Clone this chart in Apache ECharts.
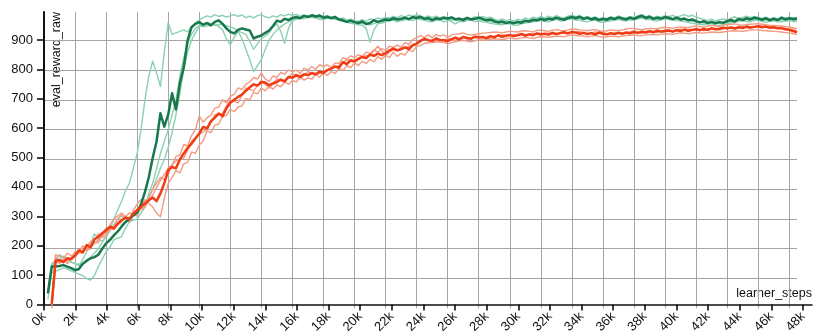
<!DOCTYPE html>
<html>
<head>
<meta charset="utf-8">
<script src="https://cdn.jsdelivr.net/npm/echarts@6/dist/echarts.min.js"></script>
<style>
  html, body { margin: 0; padding: 0; background: #fff; }
  #chart { width: 815px; height: 336px; }
</style>
</head>
<body>
<div id="chart"></div>
<script>
// learner steps at which evaluation was recorded (8 per row = 2k steps)
const steps = [
  250, 500, 750, 1000, 1250, 1500, 1750, 2000,
  2250, 2500, 2750, 3000, 3250, 3500, 3750, 4000,
  4250, 4500, 4750, 5000, 5250, 5500, 5750, 6000,
  6250, 6500, 6750, 7000, 7250, 7500, 7750, 8000,
  8250, 8500, 8750, 9000, 9250, 9500, 9750, 10000,
  10250, 10500, 10750, 11000, 11250, 11500, 11750, 12000,
  12250, 12500, 12750, 13000, 13250, 13500, 13750, 14000,
  14250, 14500, 14750, 15000, 15250, 15500, 15750, 16000,
  16250, 16500, 16750, 17000, 17250, 17500, 17750, 18000,
  18250, 18500, 18750, 19000, 19250, 19500, 19750, 20000,
  20250, 20500, 20750, 21000, 21250, 21500, 21750, 22000,
  22250, 22500, 22750, 23000, 23250, 23500, 23750, 24000,
  24250, 24500, 24750, 25000, 25250, 25500, 25750, 26000,
  26250, 26500, 26750, 27000, 27250, 27500, 27750, 28000,
  28250, 28500, 28750, 29000, 29250, 29500, 29750, 30000,
  30250, 30500, 30750, 31000, 31250, 31500, 31750, 32000,
  32250, 32500, 32750, 33000, 33250, 33500, 33750, 34000,
  34250, 34500, 34750, 35000, 35250, 35500, 35750, 36000,
  36250, 36500, 36750, 37000, 37250, 37500, 37750, 38000,
  38250, 38500, 38750, 39000, 39250, 39500, 39750, 40000,
  40250, 40500, 40750, 41000, 41250, 41500, 41750, 42000,
  42250, 42500, 42750, 43000, 43250, 43500, 43750, 44000,
  44250, 44500, 44750, 45000, 45250, 45500, 45750, 46000,
  46250, 46500, 46750, 47000, 47250, 47500, 47750, 48000,
  48250, 48500
];

// green agent: mean curve
const greenMean = [
  50, 140, 140, 142, 145, 140, 135, 128,
  132, 150, 160, 168, 172, 180, 200, 218,
  230, 245, 258, 275, 290, 300, 312, 322,
  350, 390, 440, 505, 560, 655, 610, 650,
  722, 668, 755, 810, 900, 944, 955, 961,
  952, 958, 950, 962, 967, 955, 940, 928,
  923, 935, 940, 936, 933, 906, 912, 916,
  925, 933, 948, 966, 962, 972, 968, 975,
  978, 974, 982, 978, 984, 980, 983, 976,
  979, 974, 978, 970, 967, 962, 966, 961,
  958, 963, 955, 958, 967, 962, 966, 970,
  968, 974, 970, 972, 976, 971, 978, 975,
  979, 972, 975, 968, 974, 971, 976, 973,
  977, 970, 973, 968, 975, 970, 972, 976,
  972, 967, 970, 964, 960, 963, 958, 961,
  957, 962, 959, 966, 963, 969, 967, 972,
  968, 973, 970, 976, 972, 969, 975, 978,
  974, 979, 972, 976, 970, 974, 968, 972,
  969, 975, 971, 977, 973, 970, 976, 972,
  978, 982, 975, 979, 972, 976, 973, 978,
  975, 971, 976, 970, 973, 967, 970, 964,
  960, 964, 958, 962, 957, 961, 959, 964,
  968, 963, 972, 968, 974, 970, 976, 973,
  969, 974, 967, 972, 968, 975, 970, 974,
  971, 973
];
// green agent: individual runs
const greenRun1 = [
  60, 150, 160, 165, 175, 168, 155, 150,
  142, 165, 190, 215, 250, 235, 225, 240,
  265, 300, 330, 360, 395, 420, 470, 520,
  600, 700, 780, 830, 790, 745, 860, 960,
  920, 925, 930, 935, 928, 945, 958, 968,
  975, 982, 978, 986, 980, 984, 978, 982,
  986, 980, 985, 976, 981, 975, 983, 986,
  979, 975, 982, 978, 986, 982, 988, 984,
  987, 981, 985, 979, 986, 982, 984, 979,
  983, 977, 980, 972, 975, 968, 971, 966,
  963, 969, 964, 972, 968, 975, 972, 977,
  974, 980, 976, 983, 978, 985, 980, 986,
  981, 976, 982, 977, 981, 975, 979, 973,
  968, 974, 966, 972, 977, 973, 979, 976,
  980, 975, 978, 971, 967, 972, 966, 970,
  964, 971, 967, 975, 970, 978, 974, 979,
  975, 981, 976, 983, 978, 975, 981, 984,
  979, 983, 976, 980, 974, 979, 972, 977,
  973, 979, 975, 982, 977, 974, 980, 976,
  982, 987, 979, 983, 976, 981, 977, 983,
  979, 984, 978, 982, 986, 980, 984, 978,
  974, 970, 966, 971, 964, 969, 972, 968,
  974, 979, 973, 977, 981, 976, 980, 977,
  973, 978, 972, 977, 971, 979, 974, 978,
  975, 977
];
const greenRun2 = [
  30, 120, 125, 130, 136, 132, 126, 120,
  115, 110, 100, 95, 110, 140, 165, 190,
  205, 230, 236, 240, 270, 290, 296, 300,
  320, 340, 385, 420, 470, 520, 560, 600,
  650, 700, 780, 840, 890, 920, 940, 950,
  945, 948, 952, 955, 946, 935, 905, 885,
  910, 930, 926, 920, 895, 870, 888, 905,
  915, 925, 945, 955, 930, 890, 940, 965,
  970, 975, 972, 980, 976, 975, 970, 970,
  974, 975, 970, 968, 963, 960, 957, 955,
  952, 950, 940, 894, 935, 955, 958, 962,
  965, 968, 962, 965, 969, 970, 966, 972,
  970, 968, 964, 962, 967, 968, 962, 965,
  969, 970, 964, 962, 966, 968, 963, 965,
  962, 960, 957, 955, 953, 952, 956, 955,
  951, 950, 955, 958, 960, 962, 964, 966,
  963, 962, 967, 970, 965, 966, 970, 972,
  968, 968, 964, 962, 966, 968, 962, 960,
  963, 965, 968, 970, 966, 965, 969, 968,
  972, 975, 970, 970, 966, 965, 969, 972,
  970, 968, 966, 965, 962, 960, 957, 955,
  953, 952, 955, 956, 951, 950, 953, 955,
  958, 962, 964, 966, 963, 962, 966, 968,
  963, 960, 964, 966, 962, 962, 965, 966,
  963, 964
];
const greenRun3 = [
  50, 140, 160, 180, 172, 160, 155, 150,
  148, 145, 158, 170, 186, 200, 222, 240,
  262, 280, 300, 310, 298, 290, 310, 330,
  336, 340, 370, 400, 435, 470, 500, 540,
  590, 650, 720, 800, 860, 900, 925, 945,
  955, 960, 955, 950, 952, 955, 948, 945,
  940, 930, 905, 870, 835, 795, 815, 835,
  870, 900, 920, 935, 945, 955, 962, 970,
  974, 978, 980, 982, 980, 978, 976, 974,
  975, 976, 972, 970, 967, 964, 962, 960,
  958, 956, 954, 952, 956, 960, 963, 965,
  967, 970, 969, 968, 970, 972, 974, 976,
  974, 972, 970, 968, 970, 972, 971, 970,
  962, 955, 964, 968, 970, 972, 971, 970,
  967, 965, 962, 960, 959, 958, 960, 960,
  957, 955, 958, 962, 964, 966, 968, 970,
  969, 968, 970, 972, 971, 970, 973, 975,
  973, 972, 970, 972, 969, 968, 966, 965,
  967, 970, 972, 974, 972, 970, 972, 974,
  976, 978, 976, 974, 972, 970, 972, 975,
  974, 972, 971, 970, 968, 966, 964, 962,
  960, 958, 957, 960, 958, 956, 958, 960,
  963, 966, 968, 970, 969, 968, 970, 972,
  970, 968, 966, 970, 968, 967, 969, 970,
  968, 968
];

// red agent: mean curve
const redMean = [
  null, 15, 160, 162, 155, 168, 165, 178,
  195, 188, 212, 205, 232, 240, 252, 262,
  274, 268, 285, 296, 305, 300, 318, 330,
  341, 352, 363, 372, 360, 386, 420, 464,
  475, 470, 500, 520, 538, 553, 570, 587,
  609, 604, 628, 640, 654, 645, 672, 690,
  700, 710, 718, 730, 742, 752, 748, 760,
  758, 749, 755, 760, 768, 762, 777, 774,
  783, 778, 786, 783, 790, 786, 795, 791,
  800, 805, 812, 808, 827, 820, 833, 830,
  838, 844, 840, 852, 848, 855, 850, 857,
  866, 872, 866, 870, 876, 870, 884, 889,
  898, 905, 900, 898, 906, 901, 900, 897,
  904, 909, 903, 911, 907, 905, 912, 909,
  911, 907, 914, 910, 917, 912, 915, 918,
  914, 917, 921, 916, 920, 917, 923, 920,
  922, 919, 925, 921, 924, 927, 923, 928,
  926, 922, 925, 921, 924, 920, 926, 922,
  920, 924, 921, 925, 922, 926, 924, 928,
  925, 929, 926, 930, 927, 932, 929, 931,
  933, 929, 934, 931, 936, 932, 935, 937,
  934, 938, 935, 940, 937, 939, 942, 940,
  943, 940, 944, 941, 946, 943, 945, 947,
  944, 946, 942, 944, 940, 941, 937, 935,
  931, 927
];
// red agent: individual runs
const redRun1 = [
  null, 25, 175, 150, 165, 185, 178, 170,
  190, 210, 195, 200, 228, 250, 238, 245,
  280, 300, 310, 320, 305, 290, 330, 350,
  365, 340, 372, 400, 420, 440, 432, 450,
  480, 510, 515, 550, 545, 580, 600, 645,
  625, 640, 648, 672, 676, 700, 690, 712,
  718, 740, 735, 752, 760, 775, 770, 790,
  770, 762, 780, 776, 792, 786, 800, 795,
  800, 788, 806, 800, 812, 802, 818, 812,
  818, 808, 824, 822, 842, 836, 848, 842,
  852, 846, 860, 856, 868, 860, 872, 866,
  880, 876, 884, 876, 892, 886, 902, 908,
  916, 910, 918, 908, 920, 914, 918, 910,
  918, 920, 922, 925, 920, 918, 920, 922,
  924, 925, 926, 928, 927, 925, 928, 930,
  929, 928, 931, 932, 930, 928, 933, 934,
  932, 930, 934, 936, 933, 932, 935, 938,
  937, 935, 934, 932, 935, 936, 932, 930,
  932, 934, 933, 932, 935, 938, 940, 940,
  937, 935, 938, 940, 939, 938, 942, 944,
  942, 940, 943, 945, 944, 942, 946, 948,
  946, 944, 948, 950, 948, 946, 950, 952,
  954, 955, 952, 950, 953, 954, 955, 956,
  954, 952, 950, 950, 949, 948, 946, 945,
  942, 938
];
const redRun2 = [
  null, 0, 150, 158, 165, 150, 170, 190,
  188, 185, 205, 225, 222, 220, 248, 270,
  268, 265, 280, 290, 308, 320, 315, 310,
  338, 365, 352, 340, 320, 307, 370, 420,
  440, 462, 455, 485, 490, 525, 520, 548,
  562, 595, 590, 615, 618, 645, 648, 668,
  660, 676, 680, 705, 700, 725, 720, 740,
  730, 745, 736, 750, 744, 760, 752, 765,
  760, 778, 766, 774, 770, 785, 776, 790,
  782, 795, 788, 806, 798, 815, 808, 824,
  815, 830, 822, 836, 828, 845, 836, 850,
  842, 860, 846, 856, 850, 868, 862, 880,
  882, 890, 891, 892, 894, 895, 892, 888,
  892, 895, 898, 900, 897, 895, 898, 902,
  901, 900, 903, 905, 904, 902, 905, 908,
  906, 905, 908, 910, 908, 906, 910, 912,
  911, 910, 912, 914, 913, 912, 915, 918,
  916, 915, 914, 912, 914, 916, 913, 910,
  912, 914, 913, 912, 914, 916, 917, 918,
  916, 915, 918, 920, 919, 918, 920, 922,
  921, 920, 923, 925, 924, 922, 924, 926,
  925, 924, 926, 928, 927, 926, 928, 930,
  931, 932, 931, 930, 932, 934, 935, 935,
  933, 932, 931, 930, 929, 928, 926, 925,
  922, 920
];
const redRun3 = [
  null, 30, 180, 175, 170, 160, 168, 175,
  185, 195, 200, 205, 218, 230, 242, 255,
  262, 275, 300, 315, 308, 300, 312, 325,
  332, 340, 360, 380, 405, 430, 450, 470,
  482, 495, 500, 505, 530, 560, 572, 585,
  592, 600, 625, 650, 652, 655, 680, 700,
  695, 690, 715, 740, 735, 730, 748, 765,
  752, 740, 755, 770, 765, 760, 775, 790,
  780, 770, 782, 795, 790, 785, 788, 790,
  798, 805, 810, 815, 825, 835, 830, 825,
  835, 845, 848, 850, 865, 880, 865, 850,
  860, 868, 869, 870, 875, 880, 882, 885,
  895, 905, 900, 895, 898, 900, 902, 905,
  902, 900, 906, 912, 910, 908, 912, 915,
  910, 905, 908, 912, 915, 918, 916, 915,
  918, 920, 918, 915, 918, 922, 920, 918,
  921, 925, 922, 920, 923, 926, 925, 924,
  927, 930, 925, 920, 924, 928, 926, 925,
  922, 920, 923, 926, 925, 924, 928, 932,
  927, 922, 928, 934, 930, 926, 930, 935,
  932, 928, 933, 938, 934, 930, 935, 940,
  936, 932, 937, 942, 938, 934, 939, 944,
  941, 938, 942, 946, 943, 940, 945, 950,
  947, 944, 945, 946, 943, 940, 940, 940,
  935, 930
];

const stepMax = 48500;     // extent of the plotted steps
const tickStepMax = 48570; // extent of the labelled step axis
const rewardMax = 995;
const stepTickInterval = 2000;
const rewardTickInterval = 100;

const GREEN = '#16784b', GREEN_LIGHT = '#8ad0b3';
const RED = '#f03c14', RED_LIGHT = '#f59a82';
const GRID_COLOR = '#a4a4a4';
const AXIS_COLOR = '#111';
const FONT = 'Liberation Sans, Arial, sans-serif';

function pairs(values) {
  return steps.map((s, i) => [s, values[i]]);
}

function runSeries(values, color, width, z) {
  return {
    type: 'line',
    xAxisIndex: 0,
    yAxisIndex: 0,
    data: pairs(values),
    showSymbol: false,
    symbol: 'none',
    connectNulls: false,
    lineStyle: { color: color, width: width, join: 'round' },
    z: z,
    silent: true
  };
}

const chart = echarts.init(document.getElementById('chart'), null, { renderer: 'canvas' });

chart.setOption({
  animation: false,
  backgroundColor: '#fff',
  grid: [
    // plotting area: grid lines and curves
    { left: 44, top: 12, width: 753, height: 296.3 },
    // labelled axes
    { left: 44, top: 12, width: 768, height: 296.3 }
  ],
  xAxis: [
    {
      gridIndex: 0, type: 'value', min: 0, max: stepMax, interval: stepTickInterval,
      axisLine: { show: false }, axisTick: { show: false }, axisLabel: { show: false },
      splitLine: { show: true, showMaxLine: false, lineStyle: { color: GRID_COLOR, width: 1 } }
    },
    {
      gridIndex: 1, type: 'value', min: 0, max: tickStepMax, interval: stepTickInterval,
      axisLine: { show: true, lineStyle: { color: AXIS_COLOR, width: 1.6 } },
      axisTick: { show: true, length: 6, lineStyle: { color: AXIS_COLOR, width: 1.6 } },
      axisLabel: {
        show: true, rotate: 45, margin: 10, color: AXIS_COLOR, fontSize: 13, fontFamily: FONT,
        showMaxLabel: false,
        formatter: v => (v / 1000) + 'k'
      },
      splitLine: { show: false }
    }
  ],
  yAxis: [
    {
      gridIndex: 0, type: 'value', min: 0, max: rewardMax, interval: rewardTickInterval,
      axisLine: { show: false }, axisTick: { show: false }, axisLabel: { show: false },
      splitLine: { show: true, showMaxLine: false, showMinLine: false, lineStyle: { color: GRID_COLOR, width: 1 } }
    },
    {
      gridIndex: 1, type: 'value', min: 0, max: rewardMax, interval: rewardTickInterval,
      axisLine: { show: true, lineStyle: { color: AXIS_COLOR, width: 2 } },
      axisTick: { show: true, length: 7, lineStyle: { color: AXIS_COLOR, width: 1.6 } },
      axisLabel: {
        show: true, margin: 11, color: AXIS_COLOR, fontSize: 13, fontFamily: FONT,
        showMaxLabel: false
      },
      splitLine: { show: false }
    }
  ],
  graphic: [
    {
      type: 'text', x: 57, y: 12, rotation: Math.PI / 2,
      style: {
        text: 'eval_reward_raw', fill: AXIS_COLOR, fontSize: 12.5, fontFamily: FONT,
        align: 'right', verticalAlign: 'middle'
      }
    },
    {
      type: 'text', x: 812, y: 294,
      style: {
        text: 'learner_steps', fill: AXIS_COLOR, fontSize: 12.5, fontFamily: FONT,
        align: 'right', verticalAlign: 'middle'
      }
    }
  ],
  series: [
    runSeries(greenRun1, GREEN_LIGHT, 1.4, 2),
    runSeries(greenRun2, GREEN_LIGHT, 1.4, 2),
    runSeries(greenRun3, GREEN_LIGHT, 1.4, 2),
    runSeries(redRun1, RED_LIGHT, 1.4, 3),
    runSeries(redRun2, RED_LIGHT, 1.4, 3),
    runSeries(redRun3, RED_LIGHT, 1.4, 3),
    runSeries(greenMean, GREEN, 2.5, 4),
    runSeries(redMean, RED, 2.5, 5)
  ]
});
</script>
</body>
</html>
